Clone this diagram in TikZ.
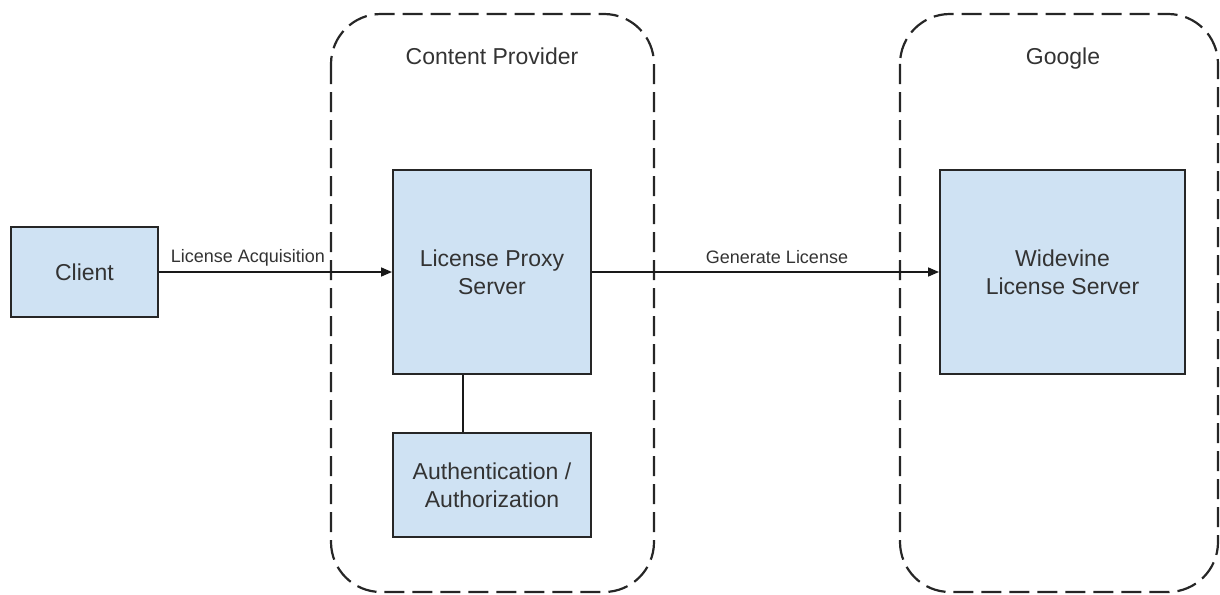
\documentclass[tikz,border=0pt]{standalone}
\usepackage{fontspec}
\setmainfont{Liberation Sans}
\usetikzlibrary{arrows.meta}
\definecolor{boxblue}{HTML}{CFE2F3}
\definecolor{txt}{HTML}{333333}
\tikzset{
  compbox/.style={draw=black!85, line width=2pt, fill=boxblue, align=center, font=\fontsize{23}{28}\selectfont, text=txt, inner sep=0pt, text depth=0pt},
  group/.style={draw=black!85, line width=2.2pt, dash pattern=on 20pt off 8pt, rounded corners=50pt},
  grouptitle/.style={font=\fontsize{23}{28}\selectfont, text=txt, anchor=base},
  conn/.style={line width=1.6pt, draw=black!90},
  arr/.style={conn, -{Triangle[length=11pt,width=9pt]}},
  lbl/.style={font=\fontsize{18}{21}\selectfont, text=txt, inner sep=0pt, anchor=base}
}
\begin{document}
\begin{tikzpicture}[x=1pt,y=-1pt]
\useasboundingbox (0,0) rectangle (1220,594);
% groups
\draw[group] (331,14) rectangle (654,592);
\draw[group] (900,14) rectangle (1218,592);
\node[grouptitle] (cpt) at (492,65) {Content Provider};
\node[grouptitle] (gt) at (1063,65) {Google};
% boxes
\node[compbox, minimum width=147pt, minimum height=90pt] (client) at (84.5,272) {Client};
\node[compbox, minimum width=198pt, minimum height=204pt] (proxy) at (492,272) {License Proxy\\Server};
\node[compbox, minimum width=198pt, minimum height=104pt] (auth) at (492,485) {Authentication /\\Authorization};
\node[compbox, minimum width=245pt, minimum height=204pt] (wv) at (1062.5,272) {Widevine\\License Server};
% connectors
\draw[arr] (client.east) -- (proxy.west);
\node[lbl] (la) at (248,262) {License Acquisition};
\draw[arr] (proxy.east) -- (wv.west);
\node[lbl] (gl) at (777,263) {Generate License};
\draw[conn] (proxy.south -| 463,0) -- (auth.north -| 463,0);
\end{tikzpicture}
\end{document}
